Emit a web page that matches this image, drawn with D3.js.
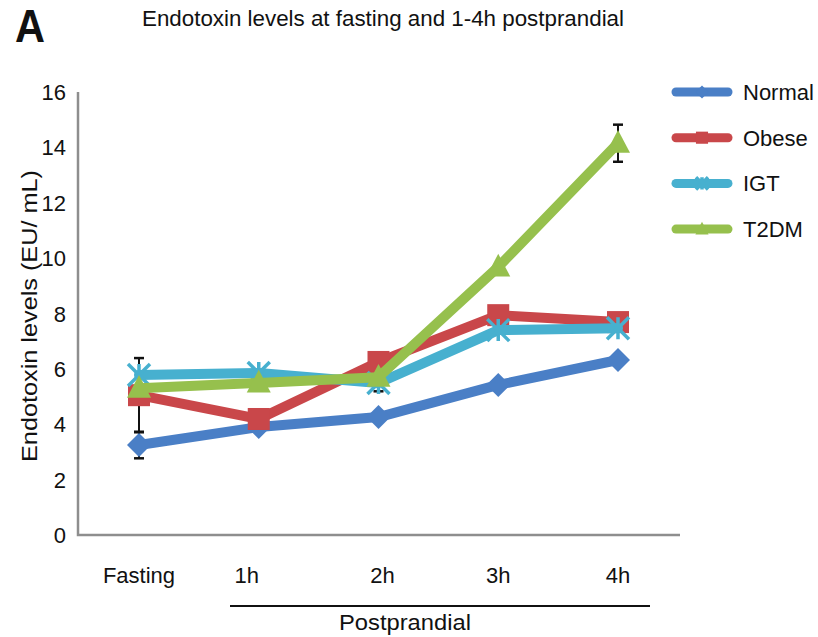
<!DOCTYPE html>
<html>
<head>
<meta charset="utf-8">
<script src="https://cdn.jsdelivr.net/npm/d3@7"></script>
<style>
  body { margin: 0; background: #fff; }
  svg text { font-family: "Liberation Sans", Arial, sans-serif; fill: #111; }
</style>
</head>
<body>
<svg id="chart" width="818" height="637"></svg>
<script>
// timepoints and tick labels
const timepoints = ['Fasting', '1h', '2h', '3h', '4h'];
const yTicks = [0, 2, 4, 6, 8, 10, 12, 14, 16];

// endotoxin levels (EU/mL) per group
const normal = [3.25, 3.9, 4.26, 5.42, 6.32];
const obese  = [5.05, 4.19, 6.25, 7.94, 7.69];
const igt    = [5.78, 5.85, 5.49, 7.4, 7.47];
const t2dm   = [5.3, 5.49, 5.7, 9.68, 14.15];

// visible error bars only: [timepoint index, half-width]
const errNormal = [[0, 0.48]];
const errObese  = [[0, 1.34]];
const errIgt    = [[2, 0.3]];
const errT2dm   = [[4, 0.67]];

const series = [
  { name: 'Normal', values: normal, err: errNormal, color: '#4a7fc6', marker: 'diamond' },
  { name: 'Obese',  values: obese,  err: errObese,  color: '#c9474a', marker: 'square' },
  { name: 'IGT',    values: igt,    err: errIgt,    color: '#47b0cf', marker: 'star' },
  { name: 'T2DM',   values: t2dm,   err: errT2dm,   color: '#96c04d', marker: 'triangle' }
];

const svg = d3.select('#chart');
const x = d3.scalePoint().domain(timepoints).range([139, 618]);
const y = d3.scaleLinear().domain([0, 16]).range([535, 92]);

// panel letter + title
svg.append('text').attr('x', 15).attr('y', 42)
  .style('font-size', '46px').style('font-weight', 'bold')
  .attr('textLength', 30).attr('lengthAdjust', 'spacingAndGlyphs').text('A');
svg.append('text').attr('x', 142).attr('y', 26)
  .style('font-size', '22px')
  .attr('textLength', 482).attr('lengthAdjust', 'spacingAndGlyphs')
  .text('Endotoxin levels at fasting and 1-4h postprandial');

// axes lines (Excel-style, grey, no ticks)
svg.append('path')
  .attr('d', 'M78,' + y(16) + 'V' + y(0) + 'H680')
  .attr('fill', 'none').attr('stroke', '#8e8e8e').attr('stroke-width', 2.5);

svg.append('g').selectAll('text').data(yTicks).join('text')
  .attr('x', 66).attr('y', d => y(d) + 8)
  .attr('text-anchor', 'end')
  .style('font-size', '22px')
  .text(d => d);

svg.append('text')
  .attr('transform', 'translate(37,' + 316 + ') rotate(-90)')
  .attr('text-anchor', 'middle')
  .style('font-size', '22px')
  .attr('textLength', 292).attr('lengthAdjust', 'spacingAndGlyphs')
  .text('Endotoxin levels (EU/ mL)');

// x labels
svg.append('g').selectAll('text').data(timepoints).join('text')
  .attr('x', (d, i) => x(d) + (i === 1 ? -12 : i === 2 ? 4 : 0))
  .attr('y', 583)
  .attr('text-anchor', 'middle')
  .style('font-size', '22px')
  .text(d => d);

svg.append('line').attr('x1', 230).attr('x2', 650).attr('y1', 606).attr('y2', 606)
  .attr('stroke', '#111').attr('stroke-width', 2);
svg.append('text').attr('x', 405).attr('y', 630).attr('text-anchor', 'middle')
  .style('font-size', '22px').attr('textLength', 132).attr('lengthAdjust', 'spacingAndGlyphs')
  .text('Postprandial');

// error bars underneath
const eb = svg.append('g');
series.forEach(s => {
  s.err.forEach(([i, e]) => {
    const cx = x(timepoints[i]), v = s.values[i];
    eb.append('line').attr('x1', cx).attr('x2', cx).attr('y1', y(v - e)).attr('y2', y(v + e))
      .attr('stroke', '#111').attr('stroke-width', 2);
    [v - e, v + e].forEach(t => {
      eb.append('line').attr('x1', cx - 5).attr('x2', cx + 5).attr('y1', y(t)).attr('y2', y(t))
        .attr('stroke', '#111').attr('stroke-width', 2.5);
    });
  });
});

function drawMarker(g, type, color, cx, cy, sc) {
  sc = sc || 1;
  if (type === 'diamond') {
    const r = 12 * sc;
    g.append('path').attr('d', `M${cx},${cy - r}L${cx + r},${cy}L${cx},${cy + r}L${cx - r},${cy}Z`).attr('fill', color);
  } else if (type === 'square') {
    const r = 11 * sc;
    g.append('rect').attr('x', cx - r).attr('y', cy - r).attr('width', 2 * r).attr('height', 2 * r).attr('fill', color);
  } else if (type === 'triangle') {
    const r = 12 * sc;
    g.append('path').attr('d', `M${cx},${cy - r * 1.1}L${cx + r},${cy + r * 0.8}L${cx - r},${cy + r * 0.8}Z`).attr('fill', color);
  } else if (type === 'star') {
    const r = 11 * sc;
    g.append('path')
      .attr('d', `M${cx - r},${cy - r}L${cx + r},${cy + r}M${cx + r},${cy - r}L${cx - r},${cy + r}M${cx},${cy - r}V${cy + r}`)
      .attr('stroke', color).attr('stroke-width', 3.5).attr('fill', 'none');
  }
}

const line = d3.line().x((d, i) => x(timepoints[i])).y(d => y(d));
series.forEach(s => {
  const g = svg.append('g');
  g.append('path').datum(s.values).attr('d', line)
    .attr('fill', 'none').attr('stroke', s.color).attr('stroke-width', 10)
    .attr('stroke-linejoin', 'round').attr('stroke-linecap', 'round');
  s.values.forEach((v, i) => drawMarker(g, s.marker, s.color, x(timepoints[i]), y(v)));
});

// legend
const lg = svg.append('g');
series.forEach((s, i) => {
  const ly = 92 + i * 45.7;
  lg.append('line').attr('x1', 676).attr('x2', 728).attr('y1', ly).attr('y2', ly)
    .attr('stroke', s.color).attr('stroke-width', 9).attr('stroke-linecap', 'round');
  drawMarker(lg, s.marker, s.color, 702, ly, 0.55);
  lg.append('text').attr('x', 743).attr('y', ly + 8)
    .style('font-size', '22px').text(s.name);
});
</script>
</body>
</html>
